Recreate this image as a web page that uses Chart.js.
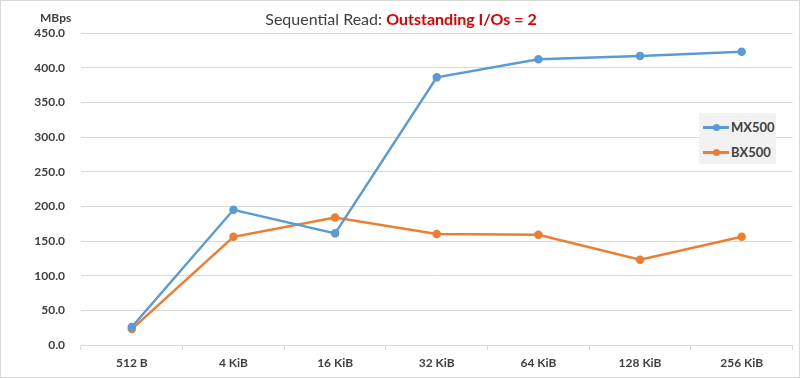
<!DOCTYPE html>
<html>
<head>
<meta charset="utf-8">
<script src="https://cdn.jsdelivr.net/npm/chart.js@4"></script>
<style>
  html, body { margin: 0; padding: 0; background: #fff; }
  #wrap { position: relative; width: 800px; height: 378px; box-sizing: border-box; border: 1px solid #d9d9d9; overflow: hidden; }
  canvas { position: absolute; left: 0; top: 0; }
  #title { position: absolute; left: 0; width: 800px; top: 8px; text-align: center; font-family: Lato, "Open Sans", sans-serif; font-size: 16px; color: #404040; }
  #title .red { color: #e00000; font-weight: bold; }
  #unit { position: absolute; left: 39px; top: 9px; font-family: Lato, sans-serif; font-size: 12px; font-weight: bold; color: #404040; }
  #legend { position: absolute; left: 698px; top: 112px; width: 77px; height: 51px; background: #f2f2f2; font-family: Lato, sans-serif; font-size: 13px; font-weight: bold; color: #404040; }
  .item { position: absolute; left: 4px; height: 16px; display: flex; align-items: center; }
  .sw { position: relative; width: 26px; height: 3px; margin-right: 2px; }
  .sw i { position: absolute; left: 10px; top: -2px; width: 7px; height: 7px; border-radius: 50%; }
</style>
</head>
<body>
<div id="wrap">
  <canvas id="c" width="798" height="376"></canvas>
  <div id="title">Sequential Read: <span class="red">Outstanding I/Os = 2</span></div>
  <div id="unit">MBps</div>
  <div id="legend">
    <div class="item" style="top:6px"><div class="sw" style="background:#5b9bd5"><i style="background:#5b9bd5"></i></div>MX500</div>
    <div class="item" style="top:31px"><div class="sw" style="background:#ed7d31"><i style="background:#ed7d31"></i></div>BX500</div>
  </div>
</div>
<script>
const categories = ["512 B", "4 KiB", "16 KiB", "32 KiB", "64 KiB", "128 KiB", "256 KiB"];
const mx500 = [26, 195, 161, 386, 412, 417, 423];
const bx500 = [23, 156, 184, 160, 159, 123, 156];
const yTicks = [0, 50, 100, 150, 200, 250, 300, 350, 400, 450];

const tickFont = { family: "Lato, sans-serif", size: 12, weight: "bold" };

new Chart(document.getElementById("c"), {
  type: "line",
  data: {
    labels: categories,
    datasets: [
      { label: "MX500", data: mx500, borderColor: "#5b9bd5", backgroundColor: "#5b9bd5", borderWidth: 2.5, pointRadius: 3, pointBackgroundColor: "#5b9bd5", tension: 0 },
      { label: "BX500", data: bx500, borderColor: "#ed7d31", backgroundColor: "#ed7d31", borderWidth: 2.5, pointRadius: 3, pointBackgroundColor: "#ed7d31", tension: 0 }
    ]
  },
  options: {
    responsive: false,
    animation: false,
    layout: { padding: { top: 32, right: 6, left: 0, bottom: 0 } },
    plugins: { legend: { display: false }, tooltip: { enabled: false } },
    scales: {
      x: {
        offset: true,
        grid: { offset: true, drawOnChartArea: false, color: "#d9d9d9", tickLength: 5 },
        border: { color: "#d9d9d9" },
        ticks: { color: "#404040", font: tickFont, padding: 6 },
        afterFit: (s) => { s.height = 32; }
      },
      y: {
        min: 0, max: 450,
        afterBuildTicks: (s) => { s.ticks = yTicks.map(v => ({ value: v })); },
        grid: { color: "#d9d9d9", drawTicks: false },
        border: { display: false },
        ticks: { color: "#404040", font: tickFont, padding: 16, callback: (v) => Number(v).toFixed(1) },
        afterFit: (s) => { s.width = 80; }
      }
    }
  }
});
</script>
</body>
</html>
